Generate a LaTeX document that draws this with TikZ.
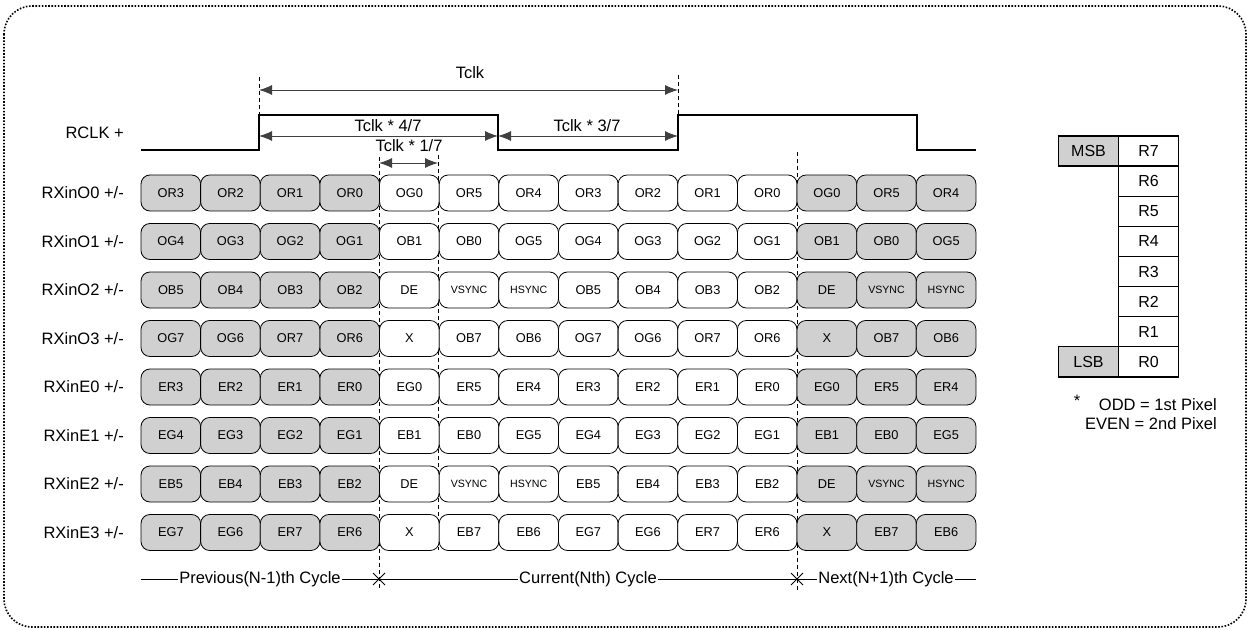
\documentclass[tikz,border=0pt]{standalone}
\usepackage{fontspec}
\setmainfont{Liberation Sans}
\usetikzlibrary{arrows.meta}
\definecolor{cellgray}{RGB}{208,208,208}
\newcommand\smallsync{\fontsize{10.6}{12}\selectfont}
\begin{document}
\begin{tikzpicture}[x=1pt,y=-1pt,
  cellbox/.style={draw=black, line width=0.8pt, rounded corners=9pt, minimum width=59.64pt, minimum height=36pt, inner sep=0pt, font=\fontsize{12.8}{14}\selectfont},
  tabbox/.style={draw=black, line width=1.2pt, minimum width=60pt, minimum height=30.1pt, inner sep=0pt, fill=white, font=\fontsize{16}{18}\selectfont},
  biglab/.style={inner sep=0pt, font=\fontsize{16.5}{19}\selectfont},
  cyclab/.style={inner sep=1pt, fill=white, font=\fontsize{16.5}{19}\selectfont},
  dimarrow/.style={{Latex[length=13pt,width=10pt]}-{Latex[length=13pt,width=10pt]}, line width=0.9pt, draw=black!75},
  guide/.style={dash pattern=on 4pt off 3pt, line width=0.8pt},
  wave/.style={line width=1.3pt},
  frame/.style={line width=1.6pt, dash pattern=on 1.6pt off 1.6pt, rounded corners=28pt}]
\useasboundingbox (0,0) rectangle (1250,631);
\draw[frame] (4,6) rectangle (1246,627);

% guide lines (behind cells)
\coordinate (g1t) at (259,77);  \coordinate (g1b) at (259,115);
\coordinate (g2t) at (678,75);  \coordinate (g2b) at (678,115);
\coordinate (g3t) at (379,157); \coordinate (g3b) at (379,590);
\coordinate (g4t) at (438,155); \coordinate (g4b) at (438,550);
\coordinate (g5t) at (797,152); \coordinate (g5b) at (797,590);
\draw[guide] (g1t) -- (g1b);
\draw[guide] (g2t) -- (g2b);
\draw[guide] (g3t) -- (g3b);
\draw[guide] (g4t) -- (g4b);
\draw[guide] (g5t) -- (g5b);

% clock waveform
\coordinate (w0) at (141,150);
\coordinate (w1) at (259,150); \coordinate (w2) at (259,115);
\coordinate (w3) at (498,115); \coordinate (w4) at (498,150);
\coordinate (w5) at (678,150); \coordinate (w6) at (678,115);
\coordinate (w7) at (917,115); \coordinate (w8) at (917,150);
\coordinate (w9) at (976,150);
\draw[wave] (w0) -- (w1) -- (w2) -- (w3) -- (w4) -- (w5) -- (w6) -- (w7) -- (w8) -- (w9);
\node[biglab, anchor=east] (rclk) at (124,133) {RCLK +};

% dimension arrows
\coordinate (a1l) at (259,90);  \coordinate (a1r) at (678,90);
\coordinate (a2l) at (259,136); \coordinate (a2r) at (498,136);
\coordinate (a3l) at (498,136); \coordinate (a3r) at (678,136);
\coordinate (a4l) at (379,163); \coordinate (a4r) at (438,163);
\draw[dimarrow] (a1l) -- (a1r);
\draw[dimarrow] (a2l) -- (a2r);
\draw[dimarrow] (a3l) -- (a3r);
\draw[dimarrow] (a4l) -- (a4r);
\node[biglab] (tclk) at (470,73) {Tclk};
\node[biglab] (t47) at (388,126) {Tclk * 4/7};
\node[biglab] (t37) at (587,126) {Tclk * 3/7};
\node[biglab] (t17) at (409,146) {Tclk * 1/7};

% row labels
\foreach \lab [count=\r from 0] in {RXinO0 +/-,RXinO1 +/-,RXinO2 +/-,RXinO3 +/-,RXinE0 +/-,RXinE1 +/-,RXinE2 +/-,RXinE3 +/-}{
  \node[biglab, anchor=east] (l\r) at (124,193+48.5*\r) {\lab};
}

% cells
\foreach \row [count=\r from 0] in {
  {OR3,OR2,OR1,OR0,OG0,OR5,OR4,OR3,OR2,OR1,OR0,OG0,OR5,OR4},
  {OG4,OG3,OG2,OG1,OB1,OB0,OG5,OG4,OG3,OG2,OG1,OB1,OB0,OG5},
  {OB5,OB4,OB3,OB2,DE,\smallsync VSYNC,\smallsync HSYNC,OB5,OB4,OB3,OB2,DE,\smallsync VSYNC,\smallsync HSYNC},
  {OG7,OG6,OR7,OR6,X,OB7,OB6,OG7,OG6,OR7,OR6,X,OB7,OB6},
  {ER3,ER2,ER1,ER0,EG0,ER5,ER4,ER3,ER2,ER1,ER0,EG0,ER5,ER4},
  {EG4,EG3,EG2,EG1,EB1,EB0,EG5,EG4,EG3,EG2,EG1,EB1,EB0,EG5},
  {EB5,EB4,EB3,EB2,DE,\smallsync VSYNC,\smallsync HSYNC,EB5,EB4,EB3,EB2,DE,\smallsync VSYNC,\smallsync HSYNC},
  {EG7,EG6,ER7,ER6,X,EB7,EB6,EG7,EG6,ER7,ER6,X,EB7,EB6}}{
  \foreach \t [count=\i from 0] in \row {
    \ifnum\i<4 \def\fc{cellgray}\else\ifnum\i>10 \def\fc{cellgray}\else\def\fc{white}\fi\fi
    \node[cellbox, fill=\fc] (c\r-\i) at ({141+59.64*(\i+0.5)},{193+48.5*\r}) {\t};
  }
}

% cycle line
\coordinate (cl) at (141,579); \coordinate (cr) at (976,579);
\coordinate (x1) at (379,579); \coordinate (x2) at (797,579);
\draw[line width=0.8pt] (cl) -- (cr);
\draw[line width=0.8pt] ([shift={(-6,-6)}]x1) -- ([shift={(6,6)}]x1);
\draw[line width=0.8pt] ([shift={(-6,6)}]x1) -- ([shift={(6,-6)}]x1);
\draw[line width=0.8pt] ([shift={(-6,-6)}]x2) -- ([shift={(6,6)}]x2);
\draw[line width=0.8pt] ([shift={(-6,6)}]x2) -- ([shift={(6,-6)}]x2);
\node[cyclab] (prev) at (260,579) {Previous(N-1)th Cycle};
\node[cyclab] (curr) at (588,579) {Current(Nth) Cycle};
\node[cyclab] (next) at (886,579) {Next(N+1)th Cycle};

% bit table
\foreach \t [count=\k from 0] in {R7,R6,R5,R4,R3,R2,R1,R0}{
  \node[tabbox] (t\k) at (1148.5,{151+30.125*\k}) {\t};
}
\node[tabbox, fill=cellgray] (msb) at (1088.5,151) {MSB};
\node[tabbox, fill=cellgray] (lsb) at (1088.5,{151+30.125*7}) {LSB};

% note
\node[biglab] (star) at (1077,401) {*};
\node[biglab, anchor=east] (odd) at (1217,405) {ODD = 1st Pixel};
\node[biglab, anchor=east] (even) at (1217,424) {EVEN = 2nd Pixel};
\end{tikzpicture}
\end{document}
